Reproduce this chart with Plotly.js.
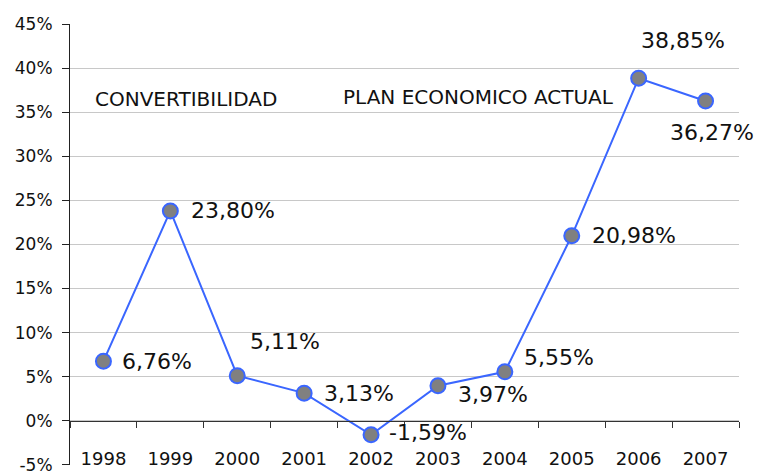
<!DOCTYPE html>
<html>
<head>
<meta charset="utf-8">
<script src="https://cdn.plot.ly/plotly-3.0.1.min.js"></script>
<style>html,body{margin:0;padding:0;background:#fff;}#chart{width:758px;height:471px;}</style>
</head>
<body>
<div id="chart"></div>
<script>
const years = ['1998','1999','2000','2001','2002','2003','2004','2005','2006','2007'];
const values = [6.76, 23.80, 5.11, 3.13, -1.59, 3.97, 5.55, 20.98, 38.85, 36.27];
const labels = ['6,76%','23,80%','5,11%','3,13%','-1,59%','3,97%','5,55%','20,98%','38,85%','36,27%'];
const yTickVals = [-5, 0, 5, 10, 15, 20, 25, 30, 35, 40, 45];
const yTickText = ['-5%','0%','5%','10%','15%','20%','25%','30%','35%','40%','45%'];
const periodNames = ['CONVERTIBILIDAD', 'PLAN ECONOMICO ACTUAL'];

// label placement (style only): [xanchor, yanchor, xshift, yshift]
const labelPlacement = [
  ['left','middle',17,0],
  ['left','middle',19,0],
  ['left','middle',11,34],
  ['left','middle',18,0],
  ['left','middle',16,2],
  ['left','middle',18,-9],
  ['left','middle',17,14],
  ['left','middle',18,0],
  ['left','middle',0,38],
  ['center','middle',6,-32]
];

const FONT = 'DejaVu Sans, Liberation Sans, Arial, sans-serif';

const traces = [
  {
    x: years, y: values, type: 'scatter', mode: 'lines+markers',
    line: {color: '#3a66ff', width: 2},
    marker: {size: 15, color: '#808080', line: {color: '#3a66ff', width: 2}},
    hoverinfo: 'skip', showlegend: false
  },
  {
    x: years, y: values, type: 'scatter', mode: 'markers', xaxis: 'x2',
    marker: {opacity: 0}, hoverinfo: 'skip', showlegend: false
  }
];

// category axis: refer to points by their category index
const annotations = labels.map((t, i) => ({
  x: i, y: values[i], xref: 'x', yref: 'y', text: t, showarrow: false,
  xanchor: labelPlacement[i][0], yanchor: labelPlacement[i][1],
  xshift: labelPlacement[i][2], yshift: labelPlacement[i][3],
  font: {family: FONT, size: 22, color: '#111'}
}));
annotations.push({
  x: 0.034, y: 0.83, xref: 'paper', yref: 'paper', text: periodNames[0], showarrow: false,
  xanchor: 'left', yanchor: 'middle', font: {family: FONT, size: 20, color: '#111'}
});
annotations.push({
  x: 0.405, y: 0.834, xref: 'paper', yref: 'paper', text: periodNames[1], showarrow: false,
  xanchor: 'left', yanchor: 'middle', font: {family: FONT, size: 20, color: '#111'}
});

const layout = {
  width: 758, height: 471,
  margin: {l: 70, r: 19, t: 24, b: 6},
  paper_bgcolor: '#fff', plot_bgcolor: '#fff',
  showlegend: false,
  font: {family: FONT, color: '#111'},
  xaxis: {
    type: 'category', range: [-0.5, 9.5], anchor: 'free', position: 0.044,
    showline: false, showgrid: false, zeroline: false, ticks: '',
    tickfont: {family: FONT, size: 18, color: '#111'}
  },
  xaxis2: {
    type: 'category', range: [-0.5, 9.5], overlaying: 'x', anchor: 'free', position: 0.1,
    showline: true, linecolor: '#333', linewidth: 1,
    ticks: 'outside', tickson: 'boundaries', ticklen: 6, tickcolor: '#333',
    showticklabels: false, showgrid: false, zeroline: false
  },
  yaxis: {
    range: [-5.02, 45], tickvals: yTickVals, ticktext: yTickText,
    showline: true, linecolor: '#222', linewidth: 1,
    ticks: 'outside', ticklen: 7, tickcolor: '#222', ticklabelstandoff: 6,
    ticklabeloverflow: 'allow',
    showgrid: true, gridcolor: '#c8c8c8', gridwidth: 1,
    zeroline: false,
    tickfont: {family: FONT, size: 17, color: '#111'}
  },
  annotations: annotations
};

Plotly.newPlot('chart', traces, layout, {displayModeBar: false, staticPlot: true});
</script>
</body>
</html>
